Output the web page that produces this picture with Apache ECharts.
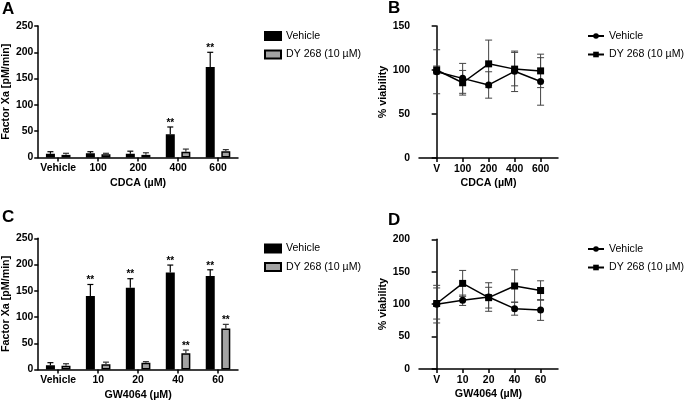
<!DOCTYPE html>
<html><head><meta charset="utf-8">
<script src="https://cdn.jsdelivr.net/npm/echarts@6/dist/echarts.min.js"></script>
<style>html,body{margin:0;padding:0;background:#fff}#c{width:685px;height:406px}</style>
</head><body><div id="c"></div>
<script>
// ---- data ----
const catA = ['Vehicle', '100', '200', '400', '600'];
const catB = ['V', '100', '200', '400', '600'];
const catC = ['Vehicle', '10', '20', '40', '60'];
const catD = ['V', '10', '20', '40', '60'];

const aVeh = [7, 8, 7, 44, 172];
const aVehErr = [4, 3, 5, 14, 28];
const aDy = [5, 6, 5, 11, 12];
const aDyErr = [3, 2, 4, 5, 3];
const aVehSig = [0, 0, 0, 1, 1];
const aDySig = [0, 0, 0, 0, 0];

const cVeh = [8, 140, 156, 185, 178];
const cVehErr = [5, 22, 17, 14, 12];
const cDy = [7, 10, 13, 31, 78];
const cDyErr = [4, 4, 2, 6, 8];
const cVehSig = [0, 1, 1, 1, 1];
const cDySig = [0, 0, 0, 1, 1];

const bVeh = [98, 90.5, 83, 98.5, 87];
const bVehErr = [25, 17, 15, 23, 27];
const bDy = [100, 85.5, 107, 101, 99];
const bDyErr = [4.5, 14, 27, 19, 19];

const dVeh = [100, 106, 111, 93, 91];
const dVehErr = [29, 8, 22, 10, 16];
const dDy = [101, 132, 110, 128, 121];
const dDyErr = [24, 20, 16, 25, 15];

const yTicksA = [0, 50, 100, 150, 200, 250];
const yTicksB = [0, 50, 100, 150];
const yTicksD = [0, 50, 100, 150, 200];

const nameVeh = 'Vehicle';
const nameDy = 'DY 268 (10 µM)';
const titleA = 'Factor Xa [pM/min]';
const titleB = '% viability';
const xTitleA = 'CDCA (µM)';
const xTitleC = 'GW4064 (µM)';

// ---- styling ----
const FONT = 'Liberation Sans, Arial, sans-serif';
const GRAY = '#a3a3a3';
const AX = {lineStyle: {color: '#000', width: 1.5}};
const TICKFONT = {fontFamily: FONT, fontWeight: 'bold', fontSize: 10.4, color: '#000'};
const TITLEFONT = {fontFamily: FONT, fontWeight: 'bold', fontSize: 10.7, color: '#000'};

function yBar(i, ticks, title) {
  return {
    type: 'value', gridIndex: i, min: 0, max: ticks[ticks.length - 1], interval: 50,
    axisLine: {show: true, ...AX}, axisTick: {show: true, length: 4, ...AX},
    splitLine: {show: false},
    axisLabel: {...TICKFONT, margin: 5},
    name: title, nameLocation: 'middle', nameGap: 26, nameTextStyle: TITLEFONT
  };
}

function xCat(i, cats, title) {
  return {
    type: 'category', gridIndex: i, data: cats,
    axisLine: {show: true, ...AX}, axisTick: {show: true, alignWithLabel: true, length: 4, ...AX},
    axisLabel: {interval: 0, ...TICKFONT, margin: 6},
    name: title, nameLocation: 'middle', nameGap: 20, nameTextStyle: TITLEFONT
  };
}

function xVal(i, cats, title) {
  const idx = cats.map((_, k) => k);
  return {
    type: 'value', gridIndex: i, min: -0.68, max: 4.67,
    axisLine: {show: true, ...AX},
    axisTick: {show: true, length: 4, customValues: idx, ...AX},
    splitLine: {show: false},
    axisLabel: {customValues: idx, formatter: v => cats[Math.round(v)], ...TICKFONT, margin: 6},
    name: title, nameLocation: 'middle', nameGap: 20, nameTextStyle: TITLEFONT
  };
}

function yVal(i, ticks, title) {
  return {
    type: 'value', gridIndex: i, min: 0, max: ticks[ticks.length - 1], interval: 50,
    axisLine: {show: true, ...AX}, axisTick: {show: true, length: 5, ...AX},
    splitLine: {show: false},
    axisLabel: {...TICKFONT, margin: 9},
    name: title, nameLocation: 'middle', nameGap: 28, nameTextStyle: TITLEFONT
  };
}

function barErr(i, vals, errs, sig, off, color) {
  return {
    type: 'custom', xAxisIndex: i, yAxisIndex: i, z: 3,
    data: vals.map((v, k) => [k, v, errs[k], sig[k]]),
    renderItem: (params, api) => {
      const k = api.value(0), v = api.value(1), e = api.value(2), s = api.value(3);
      const p = api.coord([k, v]);
      const t = api.coord([k, v + e]);
      const x = p[0] + off;
      const ch = [
        {type: 'line', shape: {x1: x, y1: p[1], x2: x, y2: t[1]}, style: {stroke: color, lineWidth: 1.2}},
        {type: 'line', shape: {x1: x - 3, y1: t[1], x2: x + 3, y2: t[1]}, style: {stroke: color, lineWidth: 1.2}}
      ];
      if (s) ch.push({type: 'text', style: {text: '**', x: x, y: t[1] + 1, align: 'center', verticalAlign: 'bottom',
        font: 'bold 10px ' + FONT, fill: '#000'}});
      return {type: 'group', children: ch};
    }
  };
}

function lineErr(i, vals, errs) {
  return {
    type: 'custom', xAxisIndex: i, yAxisIndex: i, z: 1,
    data: vals.map((v, k) => [k, v, errs[k]]),
    renderItem: (params, api) => {
      const k = api.value(0), v = api.value(1), e = api.value(2);
      const a = api.coord([k, v + e]);
      const b = api.coord([k, v - e]);
      const x = a[0];
      const st = {stroke: '#444', lineWidth: 1};
      return {type: 'group', children: [
        {type: 'line', shape: {x1: x, y1: a[1], x2: x, y2: b[1]}, style: st},
        {type: 'line', shape: {x1: x - 3.5, y1: a[1], x2: x + 3.5, y2: a[1]}, style: st},
        {type: 'line', shape: {x1: x - 3.5, y1: b[1], x2: x + 3.5, y2: b[1]}, style: st}
      ]};
    }
  };
}

function barSeries(i, tag, vals, isDy) {
  return {
    type: 'bar', name: tag + (isDy ? nameDy : nameVeh), xAxisIndex: i, yAxisIndex: i,
    data: vals, barWidth: 9, barGap: '73%', z: 2,
    itemStyle: {color: isDy ? GRAY : '#000', borderColor: '#000', borderWidth: 1.5}
  };
}

function lineSeries(i, tag, vals, isDy) {
  return {
    type: 'line', name: tag + (isDy ? nameDy : nameVeh), xAxisIndex: i, yAxisIndex: i, z: 2,
    data: vals.map((v, k) => [k, v]),
    symbol: isDy ? 'rect' : 'circle', symbolSize: 7,
    lineStyle: {color: '#000', width: 1.5},
    itemStyle: {color: '#000', borderColor: '#000', borderWidth: 0}
  };
}

function legend(tag, left, top, isLine) {
  return {
    left: left, top: top, orient: 'vertical', itemGap: 7.5, padding: 0,
    itemWidth: 16, itemHeight: isLine ? 7 : 8,
    icon: isLine ? undefined : 'rect',
    data: [tag + nameVeh, tag + nameDy],
    formatter: n => n.split('|')[1],
    textStyle: {fontFamily: FONT, fontSize: 10.6, color: '#000'},
    selectedMode: false
  };
}

const chart = echarts.init(document.getElementById('c'), null, {renderer: 'canvas'});
chart.setOption({
  animation: false,
  backgroundColor: '#fff',
  grid: [
    {left: 37, top: 26, width: 201, height: 131.5},
    {left: 419, top: 26, width: 139, height: 132},
    {left: 37, top: 238.3, width: 201, height: 131.2},
    {left: 419, top: 239.3, width: 139, height: 129.7}
  ],
  xAxis: [xCat(0, catA, xTitleA), xVal(1, catB, xTitleA), xCat(2, catC, xTitleC), xVal(3, catD, xTitleC)],
  yAxis: [yBar(0, yTicksA, titleA), yVal(1, yTicksB, titleB), yBar(2, yTicksA, titleA), yVal(3, yTicksD, titleB)],
  legend: [
    legend('A|', 264, 30.5, false),
    legend('B|', 587, 30.5, true),
    legend('C|', 264, 243, false),
    legend('D|', 587, 243.5, true)
  ],
  series: [
    barSeries(0, 'A|', aVeh, false), barSeries(0, 'A|', aDy, true),
    barErr(0, aVeh, aVehErr, aVehSig, -7.8, '#000'), barErr(0, aDy, aDyErr, aDySig, 7.8, '#333'),
    lineErr(1, bVeh, bVehErr), lineErr(1, bDy, bDyErr),
    lineSeries(1, 'B|', bVeh, false), lineSeries(1, 'B|', bDy, true),
    barSeries(2, 'C|', cVeh, false), barSeries(2, 'C|', cDy, true),
    barErr(2, cVeh, cVehErr, cVehSig, -7.8, '#000'), barErr(2, cDy, cDyErr, cDySig, 7.8, '#333'),
    lineErr(3, dVeh, dVehErr), lineErr(3, dDy, dDyErr),
    lineSeries(3, 'D|', dVeh, false), lineSeries(3, 'D|', dDy, true)
  ],
  graphic: [
    {type: 'text', left: 2, top: 1, style: {text: 'A', font: 'bold 17px ' + FONT, fill: '#000'}},
    {type: 'text', left: 388, top: 0, style: {text: 'B', font: 'bold 17px ' + FONT, fill: '#000'}},
    {type: 'text', left: 2, top: 209, style: {text: 'C', font: 'bold 17px ' + FONT, fill: '#000'}},
    {type: 'text', left: 388, top: 212, style: {text: 'D', font: 'bold 17px ' + FONT, fill: '#000'}}
  ]
});
</script>
</body></html>
